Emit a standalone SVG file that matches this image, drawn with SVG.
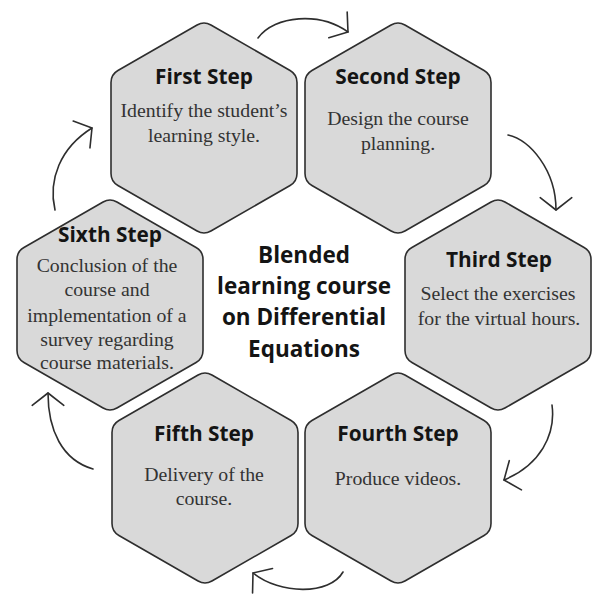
<svg xmlns="http://www.w3.org/2000/svg" xmlns:xlink="http://www.w3.org/1999/xlink" width="595" height="596" viewBox="0 0 595 596">
  <style>
    .hex { fill: #d9d9d9; stroke: #2e2e2e; stroke-width: 1.6; }
    .title { font-family: "Open Sans", "DejaVu Sans", sans-serif; font-weight: 700; font-size: 20.8px; fill: #141414; text-anchor: middle; }
    .body { font-family: "Liberation Serif", "Times New Roman", serif; font-size: 19.8px; fill: #333333; text-anchor: middle; }
    .hub { font-family: "Open Sans", "DejaVu Sans", sans-serif; font-weight: 700; font-size: 22.5px; fill: #141414; text-anchor: middle; }
    .arrow { fill: none; stroke: #2e2e2e; stroke-width: 1.6; stroke-linecap: round; marker-end: url(#vhead); }
  </style>
  <defs>
    <!-- pointy-top hexagon with softened corners, centred on 0,0 -->
    <path id="hex" d="M6.93,-103.01 L86.07,-57.49 Q93,-53.5 93,-45.5 L93,45.5 Q93,53.5 86.07,57.49 L6.93,103.01 Q0,107 -6.93,103.01 L-86.07,57.49 Q-93,53.5 -93,45.5 L-93,-45.5 Q-93,-53.5 -86.07,-57.49 L-6.93,-103.01 Q0,-107 6.93,-103.01 Z"/>
    <!-- open V arrowhead -->
    <marker id="vhead" viewBox="-14 -18 16 36" markerWidth="16" markerHeight="36" markerUnits="userSpaceOnUse" refX="0" refY="0" orient="auto" overflow="visible">
      <path d="M-12.3,-15.8 L0,0 L-12.3,15.8" fill="none" stroke="#2e2e2e" stroke-width="1.6" stroke-linecap="round" stroke-linejoin="round"/>
    </marker>
  </defs>

  <g id="step1">
    <use xlink:href="#hex" href="#hex" class="hex" x="204" y="128"/>
    <text class="title" x="204" y="84">First Step</text>
    <text class="body" x="204" y="117">Identify the student’s</text>
    <text class="body" x="204" y="142">learning style.</text>
  </g>

  <g id="step2">
    <use xlink:href="#hex" href="#hex" class="hex" x="398" y="128"/>
    <text class="title" x="398" y="84">Second Step</text>
    <text class="body" x="398" y="125">Design the course</text>
    <text class="body" x="398" y="150">planning.</text>
  </g>

  <g id="step3">
    <use xlink:href="#hex" href="#hex" class="hex" x="498" y="305"/>
    <text class="title" x="499" y="267">Third Step</text>
    <text class="body" x="498" y="300">Select the exercises</text>
    <text class="body" x="499" y="325">for the virtual hours.</text>
  </g>

  <g id="step4">
    <use xlink:href="#hex" href="#hex" class="hex" x="398" y="478"/>
    <text class="title" x="398" y="441">Fourth Step</text>
    <text class="body" x="398" y="485">Produce videos.</text>
  </g>

  <g id="step5">
    <use xlink:href="#hex" href="#hex" class="hex" x="205" y="478"/>
    <text class="title" x="204" y="441">Fifth Step</text>
    <text class="body" x="204" y="481">Delivery of the</text>
    <text class="body" x="204" y="505">course.</text>
  </g>

  <g id="step6">
    <use xlink:href="#hex" href="#hex" class="hex" x="110" y="305"/>
    <text class="title" x="110" y="242">Sixth Step</text>
    <text class="body" x="107" y="272">Conclusion of the</text>
    <text class="body" x="107" y="296">course and</text>
    <text class="body" x="107" y="322">implementation of a</text>
    <text class="body" x="107" y="346">survey regarding</text>
    <text class="body" x="107" y="369">course materials.</text>
  </g>

  <g id="hub">
    <text class="hub" x="304" y="263">Blended</text>
    <text class="hub" x="304" y="294">learning course</text>
    <text class="hub" x="304" y="325">on Differential</text>
    <text class="hub" x="304" y="357">Equations</text>
  </g>

  <g id="connectors">
    <path class="arrow" d="M258,38 C275,15 320,12 348,32"/>
    <path class="arrow" d="M508,135 C530,140 556,170 556,210"/>
    <path class="arrow" d="M552,405 C556,435 540,465 504,480"/>
    <path class="arrow" d="M343,572 C330,595 280,595 253,573"/>
    <path class="arrow" d="M93,469 C62,460 48,430 48,393"/>
    <path class="arrow" d="M55,210 C48,180 60,148 92,128"/>
  </g>
</svg>
